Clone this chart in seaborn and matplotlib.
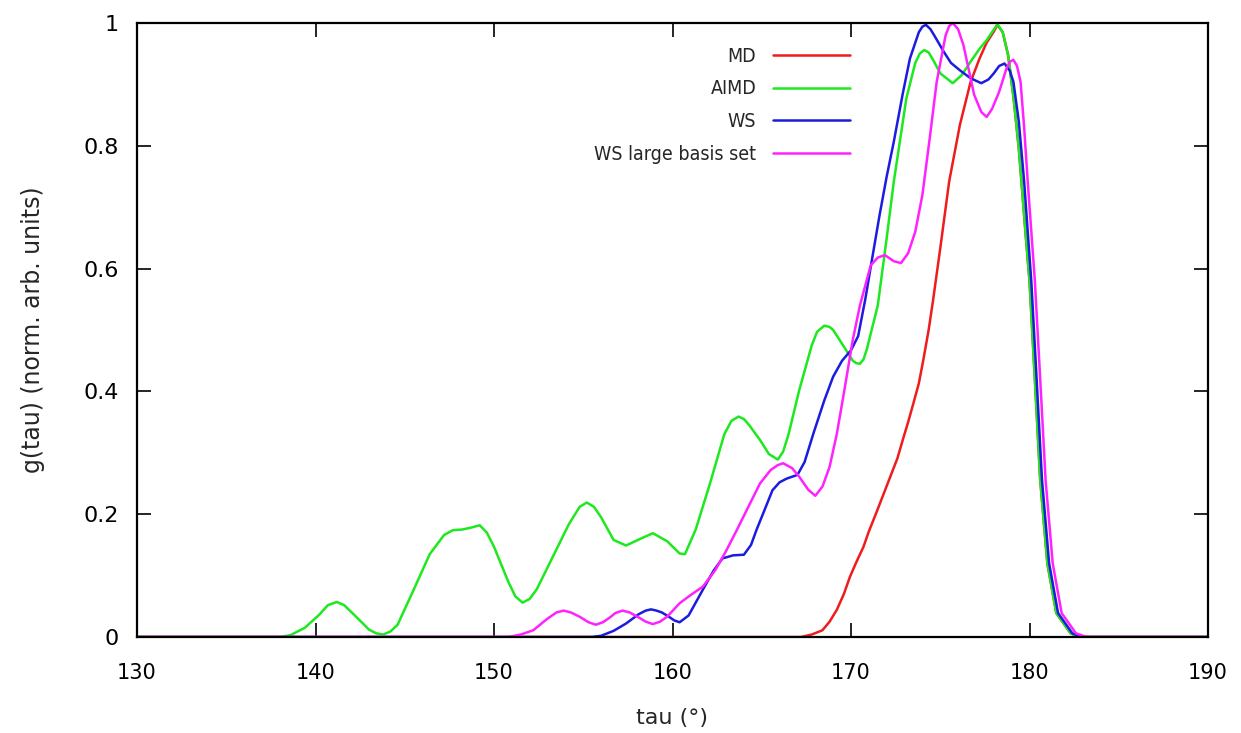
import numpy as np
import pandas as pd
import matplotlib
matplotlib.use("Agg")
import matplotlib.pyplot as plt
import seaborn as sns

# ---------------- data ----------------
md_x = [130, 167.2, 167.8, 168.4, 168.8, 169.2, 169.6, 169.94, 170.3, 170.7, 171.0, 171.4,
        171.8, 172.2, 172.6, 172.9, 173.2, 173.5, 173.8, 174.05, 174.35, 174.6, 175.0,
        175.5, 176.1, 176.7, 177.2, 177.6, 178.0, 178.2, 178.5, 178.8, 179.1, 179.4,
        179.8, 180.0, 180.3, 180.6, 181.0, 181.5, 182.3, 182.8, 190]
md_y = [0, 0, 0.004, 0.011, 0.025, 0.044, 0.070, 0.098, 0.122, 0.147, 0.172, 0.201,
        0.231, 0.261, 0.291, 0.321, 0.350, 0.381, 0.413, 0.451, 0.50, 0.549, 0.633,
        0.742, 0.834, 0.904, 0.942, 0.968, 0.986, 0.997, 0.985, 0.948, 0.880, 0.796,
        0.65, 0.58, 0.42, 0.256, 0.120, 0.039, 0.006, 0, 0]

aimd_x = [130, 138.0, 138.6, 139.4, 140.2, 140.7, 141.2, 141.6, 142.1, 143.0, 143.4, 143.8,
          144.2, 144.6, 145.5, 146.4, 147.2, 147.7, 148.2, 148.7, 149.2, 149.6, 150.0,
          150.8, 151.2, 151.6, 152.0, 152.4, 153.3, 154.2, 154.8, 155.2, 155.6, 156.0,
          156.7, 157.4, 158.2, 158.9, 159.7, 160.4, 160.7, 161.3, 162.1, 162.9, 163.3,
          163.7, 164.0, 164.3, 164.9, 165.4, 165.9, 166.2, 166.5, 167.1, 167.8, 168.1,
          168.5, 168.8, 169.0, 169.6, 170.1, 170.3, 170.5, 170.7, 170.9, 171.5, 172.0,
          172.4, 173.1, 173.6, 173.85, 174.1, 174.35, 174.6, 175.0, 175.7, 176.2, 176.7,
          177.2, 177.6, 178.2, 178.5, 178.8, 179.1, 179.4, 179.8, 180.0, 180.3, 180.6,
          181.0, 181.5, 182.3, 182.8, 190]
aimd_y = [0, 0, 0.003, 0.015, 0.036, 0.052, 0.057, 0.052, 0.038, 0.012, 0.006, 0.004,
          0.009, 0.020, 0.077, 0.135, 0.166, 0.174, 0.175, 0.178, 0.182, 0.170, 0.147,
          0.090, 0.066, 0.056, 0.062, 0.078, 0.131, 0.184, 0.212, 0.219, 0.212, 0.195,
          0.158, 0.149, 0.160, 0.169, 0.156, 0.136, 0.135, 0.175, 0.250, 0.330, 0.352,
          0.359, 0.355, 0.345, 0.321, 0.298, 0.289, 0.302, 0.330, 0.402, 0.475, 0.497,
          0.507, 0.505, 0.500, 0.473, 0.450, 0.446, 0.445, 0.452, 0.470, 0.540, 0.650,
          0.742, 0.877, 0.935, 0.950, 0.956, 0.952, 0.940, 0.918, 0.902, 0.915, 0.937,
          0.958, 0.972, 0.998, 0.985, 0.948, 0.880, 0.796, 0.65, 0.58, 0.42, 0.256,
          0.120, 0.039, 0.006, 0, 0]

ws_x = [130, 155.5, 156.0, 156.7, 157.4, 158.1, 158.5, 158.8, 159.1, 159.4, 159.8, 160.1,
        160.4, 160.9, 161.7, 162.3, 162.8, 163.4, 164.0, 164.4, 164.7, 165.2, 165.6,
        166.0, 166.4, 167.0, 167.4, 167.9, 168.5, 169.0, 169.5, 170.0, 170.4, 170.8,
        171.2, 171.6, 172.0, 172.4, 172.9, 173.3, 173.8, 174.0, 174.2, 174.45, 174.7,
        175.2, 175.6, 176.1, 176.7, 177.3, 177.7, 178.0, 178.3, 178.6, 178.9, 179.1,
        179.4, 179.7, 180.1, 180.4, 180.7, 181.1, 181.6, 182.4, 182.9, 190]
ws_y = [0, 0, 0.002, 0.010, 0.022, 0.037, 0.043, 0.045, 0.043, 0.040, 0.033, 0.027,
        0.024, 0.035, 0.077, 0.108, 0.128, 0.133, 0.134, 0.150, 0.174, 0.210, 0.239,
        0.252, 0.258, 0.264, 0.285, 0.332, 0.385, 0.424, 0.450, 0.467, 0.490, 0.550,
        0.619, 0.687, 0.750, 0.807, 0.885, 0.942, 0.985, 0.994, 0.997, 0.990, 0.978,
        0.953, 0.935, 0.923, 0.910, 0.902, 0.908, 0.918, 0.930, 0.934, 0.922, 0.904,
        0.840, 0.742, 0.580, 0.420, 0.256, 0.120, 0.039, 0.006, 0, 0]

wsl_x = [130, 150.8, 151.5, 152.2, 153.0, 153.5, 153.9, 154.3, 154.8, 155.3, 155.7, 156.1,
         156.5, 156.8, 157.2, 157.6, 158.1, 158.5, 158.9, 159.3, 159.7, 160.4, 161.0,
         161.7, 162.4, 163.0, 163.6, 164.3, 164.9, 165.5, 165.9, 166.2, 166.7, 167.1,
         167.6, 168.0, 168.4, 168.8, 169.2, 169.6, 170.1, 170.5, 171.1, 171.5, 171.9,
         172.4, 172.8, 173.2, 173.6, 174.0, 174.4, 174.8, 175.3, 175.5, 175.7, 176.0,
         176.3, 176.9, 177.3, 177.6, 177.9, 178.3, 178.7, 178.9, 179.1, 179.3, 179.5,
         179.7, 179.9, 180.3, 180.6, 180.9, 181.3, 181.8, 182.6, 183.2, 190]
wsl_y = [0, 0, 0.004, 0.011, 0.030, 0.040, 0.043, 0.040, 0.033, 0.024, 0.020, 0.024,
         0.032, 0.039, 0.043, 0.040, 0.032, 0.025, 0.021, 0.025, 0.033, 0.055, 0.068,
         0.082, 0.109, 0.140, 0.174, 0.215, 0.250, 0.272, 0.280, 0.283, 0.275, 0.261,
         0.240, 0.230, 0.245, 0.277, 0.330, 0.397, 0.484, 0.540, 0.605, 0.618, 0.622,
         0.612, 0.609, 0.625, 0.660, 0.720, 0.810, 0.904, 0.980, 0.995, 1.000, 0.990,
         0.964, 0.883, 0.855, 0.847, 0.860, 0.888, 0.925, 0.937, 0.940, 0.930, 0.904,
         0.830, 0.742, 0.580, 0.420, 0.256, 0.120, 0.039, 0.006, 0, 0]

series_names = ["MD", "AIMD", "WS", "WS large basis set"]
series_colors = ["#ee1c1c", "#1ee81e", "#1c1ce0", "#ff22ff"]

x_ticks = [130, 140, 150, 160, 170, 180, 190]
y_ticks = [0, 0.2, 0.4, 0.6, 0.8, 1]
y_tick_labels = ["0", "0.2", "0.4", "0.6", "0.8", "1"]

# ---------------- build long table ----------------
frames = []
for name, xs, ys in zip(series_names,
                        [md_x, aimd_x, ws_x, wsl_x],
                        [md_y, aimd_y, ws_y, wsl_y]):
    frames.append(pd.DataFrame({"tau": xs, "g": ys, "series": name}))
df = pd.concat(frames, ignore_index=True)

sns.set_style("ticks")
plt.rcParams["font.family"] = ["DejaVu Sans"]

fig = plt.figure(figsize=(12.41, 7.33), dpi=100)
ax = fig.add_axes([137 / 1241, 96 / 733, 1071 / 1241, 614 / 733])

sns.lineplot(data=df, x="tau", y="g", hue="series", hue_order=series_names,
             palette=dict(zip(series_names, series_colors)), estimator=None,
             sort=False, linewidth=1.8, legend=False, ax=ax)
for ln in ax.get_lines():
    ln.set_solid_joinstyle("round")
    ln.set_solid_capstyle("round")

ax.set_xlim(130, 190)
ax.set_ylim(0, 1)
ax.set_xticks(x_ticks)
ax.set_xticklabels([str(t) for t in x_ticks])
ax.set_yticks(y_ticks)
ax.set_yticklabels(y_tick_labels)

for sp in ax.spines.values():
    sp.set_visible(True)
    sp.set_linewidth(1.6)
    sp.set_color("black")

ax.tick_params(axis="both", which="major", direction="in", length=10, width=1.2,
               top=True, right=True, colors="black")
ax.tick_params(axis="x", labelsize=15, pad=19)
ax.tick_params(axis="y", labelsize=16, pad=13)

ax.set_xlabel("tau (°)", fontsize=16, va="center")
ax.xaxis.set_label_coords(0.5, (637 - 718) / 614)
ax.set_ylabel("g(tau) (norm. arb. units)", fontsize=17, va="center")
ax.yaxis.set_label_coords((33 - 137) / 1071, 0.5)

handles = ax.get_lines()[:4]
leg = ax.legend(handles, series_names, loc="upper right", markerfirst=False,
                frameon=False, borderpad=0, handlelength=3.96,
                handletextpad=0.87, labelspacing=0.70,
                prop={"family": "DejaVu Sans", "stretch": "condensed", "size": 14},
                bbox_to_anchor=(860 / 1241, 1 - 37 / 733),
                bbox_transform=fig.transFigure)

fig.savefig("out.png", dpi=100)
